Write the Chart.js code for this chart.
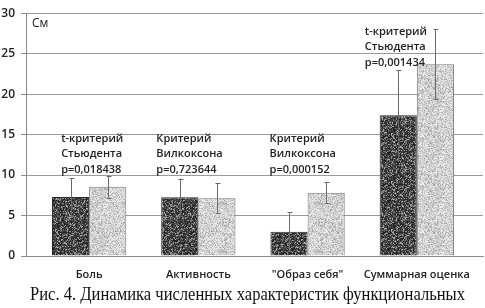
<!DOCTYPE html>
<html>
<head>
<meta charset="utf-8">
<script src="https://cdn.jsdelivr.net/npm/chart.js@4.4.1/dist/chart.umd.min.js"></script>
<style>
  html, body { margin: 0; padding: 0; background: #fff; }
  #wrap { position: absolute; left: 0; top: 0; width: 485px; height: 308px; overflow: hidden; }
  #chartBox { position: absolute; left: 0; top: 0; width: 485px; height: 308px; }
  #caption { position: absolute; left: 30px; top: 283px; white-space: nowrap;
    font-family: "Liberation Serif", "Times New Roman", serif; font-size: 19px; color: #111;
    transform-origin: 0 0; line-height: 22px; }
</style>
</head>
<body>
<div id="wrap">
  <div id="chartBox"><canvas id="c"></canvas></div>
  <div id="caption">Рис. 4. Динамика численных характеристик функциональных</div>
</div>
<script>
// ---- data ----
const categories = ['Боль', 'Активность', '"Образ себя"', 'Суммарная оценка'];
const beforeValues = [7.3, 7.25, 3.0, 17.4];
const beforeErrors = [2.3, 2.3, 2.4, 5.6];
const afterValues = [8.55, 7.15, 7.8, 23.7];
const afterErrors = [1.35, 1.85, 1.3, 4.35];
const testLines = [
  ['t-критерий', 'Стьюдента', 'p=0,018438'],
  ['Критерий', 'Вилкоксона', 'p=0,723644'],
  ['Критерий', 'Вилкоксона', 'p=0,000152'],
  ['t-критерий', 'Стьюдента', 'p=0,001434']
];
const unitLabel = 'См';
const yMin = 0, yMax = 30, yStep = 5;

// ---- textures (deterministic) ----
function makePattern(kind) {
  const s = 48;
  const cv = document.createElement('canvas');
  cv.width = s; cv.height = s;
  const cx = cv.getContext('2d');
  const img = cx.createImageData(s, s);
  let seed = kind === 'dark' ? 12345 : 67890;
  const rnd = () => { seed = (seed * 1103515245 + 12345) & 0x7fffffff; return seed / 0x7fffffff; };
  for (let i = 0; i < s * s; i++) {
    const r = rnd(), r2 = rnd();
    let v;
    if (kind === 'dark') v = r < 0.68 ? 25 + r2 * 55 : 85 + r2 * 100;
    else v = r < 0.8 ? 192 + r2 * 50 : 150 + r2 * 50;
    img.data[i * 4] = v; img.data[i * 4 + 1] = v; img.data[i * 4 + 2] = v; img.data[i * 4 + 3] = 255;
  }
  cx.putImageData(img, 0, 0);
  return document.getElementById('c').getContext('2d').createPattern(cv, 'repeat');
}

const errorBars = {
  id: 'errorBars',
  afterDatasetsDraw(chart) {
    const ctx = chart.ctx;
    const y = chart.scales.y;
    chart.data.datasets.forEach((ds, di) => {
      const meta = chart.getDatasetMeta(di);
      meta.data.forEach((bar, i) => {
        const v = ds.data[i].y, e = ds.errors[i];
        const top = y.getPixelForValue(v + e), bot = y.getPixelForValue(v - e);
        const x = Math.round(bar.x) + 0.5;
        ctx.save();
        ctx.strokeStyle = '#6a6a6a';
        ctx.lineWidth = 1;
        ctx.beginPath();
        ctx.moveTo(x, top); ctx.lineTo(x, bot);
        ctx.moveTo(x - 2, Math.round(top) + 0.5); ctx.lineTo(x + 3, Math.round(top) + 0.5);
        ctx.moveTo(x - 2, Math.round(bot) + 0.5); ctx.lineTo(x + 3, Math.round(bot) + 0.5);
        ctx.stroke();
        ctx.restore();
      });
    });
  }
};

// text annotation placement relative to the scales
const noteOffsetPx = [-28, -42, -38, -52];
const noteTopValue = [14.45, 14.45, 14.45, 27.7];
const noteLineGap = 15.3;

const notes = {
  id: 'notes',
  afterDraw(chart) {
    const ctx = chart.ctx, xs = chart.scales.x, ys = chart.scales.y;
    ctx.save();
    ctx.font = '600 11px "Open Sans"';
    ctx.fillStyle = '#222';
    ctx.textAlign = 'left';
    ctx.textBaseline = 'middle';
    testLines.forEach((lines, i) => {
      const x0 = xs.getPixelForValue(i) + noteOffsetPx[i];
      const y0 = ys.getPixelForValue(noteTopValue[i]);
      lines.forEach((t, k) => ctx.fillText(t, x0, y0 + k * noteLineGap));
    });
    ctx.font = '12px "Open Sans"';
    ctx.fillText(unitLabel, chart.chartArea.left + 6, ys.getPixelForValue(yMax) + 10);
    ctx.restore();
  }
};

const xData = (vals) => vals.map((v, i) => ({ x: i, y: v }));

new Chart(document.getElementById('c'), {
  type: 'bar',
  data: {
    datasets: [
      { label: 'до', data: xData(beforeValues), errors: beforeErrors,
        backgroundColor: makePattern('dark'), borderColor: '#2a2a2a', borderWidth: 1 },
      { label: 'после', data: xData(afterValues), errors: afterErrors,
        backgroundColor: makePattern('light'), borderColor: '#7a7a7a', borderWidth: 1 }
    ]
  },
  options: {
    responsive: true,
    maintainAspectRatio: false,
    animation: false,
    layout: { padding: { top: 9, right: 2, left: 0, bottom: 0 } },
    plugins: { legend: { display: false }, tooltip: { enabled: false } },
    datasets: { bar: { categoryPercentage: 0.68, barPercentage: 1.0 } },
    scales: {
      x: {
        type: 'linear',
        offset: false,
        min: -0.578, max: 3.606,
        grid: { display: false, offset: false },
        border: { display: true, color: '#8a8a8a' },
        ticks: {
          stepSize: 1, includeBounds: false, autoSkip: false, maxRotation: 0, padding: 4,
          color: '#222', font: { family: '"Open Sans"', size: 11, weight: '600' },
          callback: (v) => categories[v] !== undefined && Number.isInteger(v) ? categories[v] : ''
        },
        afterFit: (s) => { s.height = 52; }
      },
      y: {
        min: yMin, max: yMax,
        grid: { color: '#9a9a9a', tickColor: '#8a8a8a', tickLength: 5 },
        border: { display: true, color: '#8a8a8a' },
        ticks: { stepSize: yStep, padding: 6, color: '#222', font: { family: '"Open Sans"', size: 12, weight: '600' } },
        afterFit: (s) => { s.width = 26; }
      }
    }
  },
  plugins: [errorBars, notes]
});

// fit caption to its width in the reference
const cap = document.getElementById('caption');
const w = cap.getBoundingClientRect().width;
cap.style.transform = 'scaleX(' + (435 / w) + ')';
</script>
</body>
</html>
